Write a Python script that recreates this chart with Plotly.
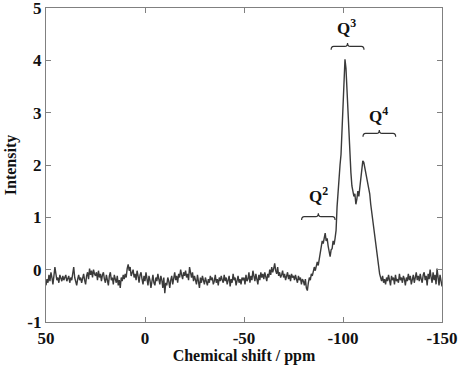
import numpy as np
import plotly.graph_objects as go

# Chemical shift axis (ppm), 0.5 ppm steps from 50 down to -150
ppm_start = 50
ppm_end = -150
intensity = [
    # 50 .. 40.5
    -0.30, -0.18, -0.25, -0.10, -0.22, -0.05, -0.15, -0.28, -0.12, 0.05,
    -0.08, -0.20, -0.15, -0.25, -0.10, -0.18, -0.22, -0.12, -0.20, -0.15,
    # 40 .. 30.5
    -0.10, -0.22, -0.18, -0.12, -0.25, -0.15, -0.20, 0.00, 0.05, -0.15,
    -0.22, -0.30, -0.18, -0.10, -0.20, -0.15, -0.25, -0.18, -0.08, -0.20,
    # 30 .. 20.5
    -0.28, -0.12, -0.05, -0.18, 0.02, -0.10, -0.02, -0.15, 0.00, -0.08,
    -0.12, -0.05, -0.20, -0.02, -0.15, -0.08, -0.22, -0.10, -0.05, -0.18,
    # 20 .. 10.5
    -0.25, -0.10, -0.18, -0.30, -0.12, -0.05, -0.20, -0.15, -0.28, -0.10,
    -0.18, -0.25, -0.12, -0.30, -0.20, -0.35, -0.15, -0.22, -0.10, -0.18,
    # 10 .. 0.5
    -0.08, -0.15, 0.02, 0.10, -0.02, 0.05, -0.12, -0.05, 0.00, -0.15,
    -0.08, -0.20, -0.02, -0.12, -0.25, -0.10, -0.05, -0.18, -0.28, -0.12,
    # 0 .. -9.5
    -0.22, -0.05, -0.15, -0.30, -0.12, -0.20, -0.35, -0.18, -0.10, -0.25,
    -0.30, -0.15, -0.22, -0.08, -0.18, -0.28, -0.12, -0.20, -0.35, -0.15,
    # -10 .. -19.5
    -0.45, -0.25, -0.30, -0.15, -0.22, -0.35, -0.20, -0.12, -0.28, -0.15,
    -0.05, -0.20, -0.12, -0.25, -0.08, -0.15, 0.00, -0.10, -0.18, -0.05,
    # -20 .. -29.5
    -0.12, -0.02, -0.15, -0.08, -0.20, 0.05, -0.10, -0.15, -0.05, -0.22,
    -0.12, -0.18, -0.28, -0.10, -0.20, -0.35, -0.15, -0.25, -0.12, -0.20,
    # -30 .. -39.5
    -0.28, -0.15, -0.22, -0.30, -0.18, -0.25, -0.12, -0.20, -0.15, -0.28,
    -0.22, -0.10, -0.25, -0.18, -0.30, -0.15, -0.22, -0.12, -0.20, -0.25,
    # -40 .. -49.5
    -0.10, -0.22, -0.15, -0.28, -0.20, -0.12, -0.32, -0.18, -0.25, -0.08,
    -0.20, -0.15, -0.30, -0.22, -0.12, -0.25, -0.18, -0.28, -0.15, -0.20,
    # -50 .. -59.5
    -0.15, -0.28, -0.10, -0.22, -0.18, -0.05, -0.25, -0.12, -0.20, -0.02,
    -0.15, -0.22, -0.08, -0.18, -0.28, -0.10, -0.20, -0.05, -0.15, -0.08,
    # -60 .. -69.5
    -0.18, -0.05, -0.12, -0.22, -0.08, -0.15, 0.00, -0.10, 0.05, -0.05,
    0.02, 0.12, -0.02, -0.08, 0.05, -0.12, -0.05, -0.15, -0.10, -0.02,
    # -70 .. -79.5
    -0.15, -0.08, -0.20, -0.12, -0.05, -0.18, -0.10, -0.22, -0.08, -0.15,
    -0.12, -0.20, -0.10, -0.18, -0.25, -0.12, -0.20, -0.15, -0.28, -0.18,
    # -80 .. -89.5
    -0.22, -0.30, -0.18, -0.35, -0.40, -0.25, -0.15, -0.20, -0.08, -0.12,
    -0.02, 0.05, -0.02, 0.10, 0.15, 0.08, 0.22, 0.30, 0.42, 0.55,
    # -90 .. -99.5
    0.50, 0.62, 0.70, 0.55, 0.60, 0.45, 0.30, 0.25, 0.38, 0.40,
    0.55, 0.48, 0.60, 0.75, 1.20, 1.55, 1.75, 2.00, 2.20, 2.75,
    # -100 .. -109.5
    3.30, 3.75, 4.02, 3.85, 3.40, 3.00, 2.55, 2.15, 1.85, 1.60,
    1.50, 1.40, 1.45, 1.25, 1.35, 1.50, 1.40, 1.60, 1.80, 2.00,
    # -110 .. -119.5
    2.08, 2.05, 1.95, 1.80, 1.72, 1.65, 1.55, 1.45, 1.25, 1.10,
    0.95, 0.75, 0.60, 0.42, 0.30, 0.15, 0.05, -0.08, -0.15, -0.22,
    # -120 .. -129.5
    -0.12, -0.25, -0.18, -0.28, -0.15, -0.22, -0.10, -0.25, -0.30, -0.12,
    -0.20, -0.15, -0.28, -0.10, -0.22, -0.18, -0.25, -0.08, -0.20, -0.15,
    # -130 .. -139.5
    -0.25, -0.12, -0.18, -0.30, -0.15, -0.22, -0.08, -0.20, -0.12, -0.28,
    -0.18, -0.10, -0.25, -0.15, -0.05, -0.20, -0.12, -0.22, -0.08, -0.18,
    # -140 .. -149.5
    -0.25, -0.10, -0.05, -0.20, -0.12, -0.30, -0.08, -0.18, 0.00, -0.15,
    -0.25, -0.05, -0.20, -0.10, -0.28, 0.02, -0.15, -0.30, -0.10, -0.22,
    # -150
    -0.32,
]
shift = list(np.linspace(ppm_start, ppm_end, len(intensity)))

x_ticks = [50, 0, -50, -100, -150]
y_ticks = [-1, 0, 1, 2, 3, 4, 5]

# Brace annotations
labels = ["Q<sup>2</sup>", "Q<sup>3</sup>", "Q<sup>4</sup>"]
brace_x0 = [-79.1, -94.0, -110.1]
brace_x1 = [-96.0, -110.6, -126.6]
brace_y = [0.95, 4.20, 2.54]
label_x = [-87.5, -101.9, -118.0]
label_y = [1.42, 4.64, 2.96]

SERIF = "Liberation Serif, Times New Roman, serif"
GREY = "#808080"

fig = go.Figure()
fig.add_trace(go.Scatter(x=shift, y=intensity, mode="lines",
                         line=dict(color="#3a3a3a", width=1.4),
                         showlegend=False, hoverinfo="skip"))


def brace_path(x0, x1, yb, h=0.13):
    xm = (x0 + x1) / 2
    q = (x1 - x0) * 0.08
    ya = yb + h * 0.5
    yt = yb + h
    return (f"M {x0},{yb} Q {x0},{ya} {x0+q},{ya} L {xm-q},{ya} "
            f"Q {xm},{ya} {xm},{yt} Q {xm},{ya} {xm+q},{ya} "
            f"L {x1-q},{ya} Q {x1},{ya} {x1},{yb}")


for i in range(len(labels)):
    fig.add_shape(type="path", xref="x", yref="y",
                  path=brace_path(brace_x0[i], brace_x1[i], brace_y[i]),
                  line=dict(color="#333333", width=1.2))
    fig.add_annotation(x=label_x[i], y=label_y[i], text=f"<b>{labels[i]}</b>",
                       showarrow=False, xref="x", yref="y",
                       font=dict(family=SERIF, size=17, color="#111111"))

axis_common = dict(showline=True, linecolor=GREY, linewidth=1.2, mirror="ticks",
                   ticks="inside", ticklen=5, tickcolor=GREY, tickwidth=1,
                   showgrid=False, zeroline=False, automargin=False,
                   ticklabeloverflow="allow",
                   tickfont=dict(family=SERIF, size=17, color="#111111"))

fig.update_xaxes(range=[50.001, -150.001], tickvals=x_ticks,
                 ticktext=[f"<b>{v}</b>" for v in x_ticks],
                 title=dict(text="<b>Chemical shift / ppm</b>", standoff=2,
                            font=dict(family=SERIF, size=16, color="#111111")),
                 **axis_common)
fig.update_yaxes(range=[-1.0001, 5.0001], tickvals=y_ticks,
                 ticktext=[f"<b>{v}</b>" for v in y_ticks],
                 title=dict(text="<b>Intensity</b>", standoff=6,
                            font=dict(family=SERIF, size=16, color="#111111")),
                 **axis_common)

fig.update_layout(width=459, height=366, plot_bgcolor="white",
                  paper_bgcolor="white",
                  margin=dict(l=46, r=17, t=8, b=44))

fig.write_html("out.html", config={"displayModeBar": False},
               post_script="document.body.style.margin='0';document.body.style.overflow='hidden';")
